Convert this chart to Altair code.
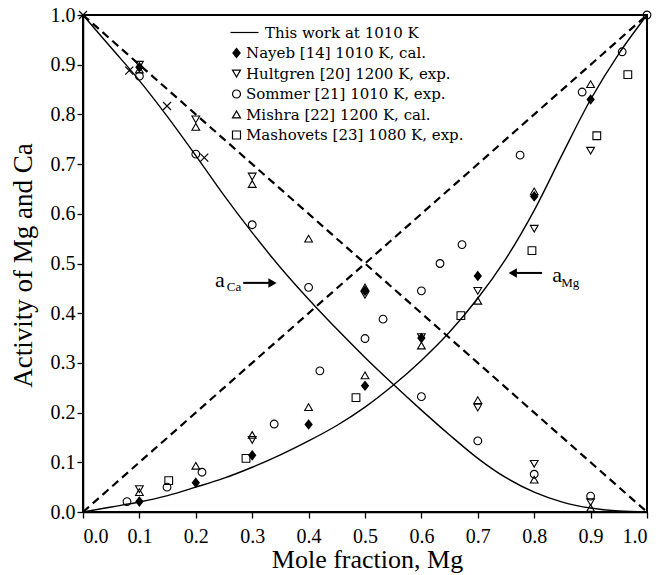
import altair as alt
import pandas as pd

# ---- model curves (this work at 1010 K) ----
curve_x = [0, 0.05, 0.1, 0.15, 0.2, 0.25, 0.3, 0.35, 0.4, 0.45, 0.5,
           0.55, 0.6, 0.65, 0.7, 0.75, 0.8, 0.85, 0.9, 0.95, 1.0]
a_ca_curve = [1.0, 0.934, 0.868, 0.795, 0.717, 0.637, 0.562, 0.492, 0.428, 0.368, 0.311,
              0.257, 0.205, 0.155, 0.108, 0.069, 0.040, 0.020, 0.008, 0.002, 0.0]
a_mg_curve = [0.0, 0.01, 0.02, 0.033, 0.05, 0.068, 0.09, 0.115, 0.143, 0.174, 0.211,
              0.255, 0.305, 0.362, 0.43, 0.51, 0.607, 0.72, 0.83, 0.922, 1.0]

# ---- ideal (Raoult) lines ----
ideal_x = [0.0, 1.0]
ideal_mg = [0.0, 1.0]
ideal_ca = [1.0, 0.0]

# ---- literature data ----
series_names = ["\u200b\u00a0\u00a0\u00a0\u00a0This work at 1010 K", "Nayeb [14] 1010 K, cal.",
                "Hultgren [20] 1200 K, exp.", "Sommer [21] 1010 K, exp.",
                "Mishra [22] 1200 K, cal.", "Mashovets [23] 1080 K, exp."]

nayeb_x = [0.1, 0.5, 0.1, 0.2, 0.3, 0.4, 0.5, 0.6, 0.7, 0.8, 0.9]
nayeb_y = [0.895, 0.445, 0.021, 0.059, 0.114, 0.176, 0.254, 0.35, 0.475, 0.635, 0.83]

hultgren_x = [0.1, 0.2, 0.3, 0.5, 0.7, 0.8, 0.9, 0.1, 0.3, 0.6, 0.7, 0.8, 0.9]
hultgren_y = [0.9, 0.79, 0.675, 0.437, 0.21, 0.097, 0.02, 0.046, 0.145, 0.352, 0.445, 0.57, 0.727]

sommer_x = [0.1, 0.2, 0.3, 0.4, 0.5, 0.6, 0.7, 0.8, 0.9,
            0.078, 0.149, 0.211, 0.339, 0.42, 0.532, 0.6, 0.633, 0.672, 0.775, 0.885, 0.956, 1.0]
sommer_y = [0.877, 0.72, 0.578, 0.452, 0.349, 0.232, 0.143, 0.076, 0.032,
            0.021, 0.05, 0.08, 0.177, 0.284, 0.388, 0.445, 0.5, 0.538, 0.718, 0.845, 0.926, 1.0]

mishra_x = [0.1, 0.2, 0.3, 0.4, 0.5, 0.7, 0.8, 0.9, 0.1, 0.2, 0.3, 0.4, 0.5, 0.6, 0.7, 0.8, 0.9]
mishra_y = [0.89, 0.775, 0.66, 0.55, 0.452, 0.225, 0.065, 0.008,
            0.04, 0.093, 0.155, 0.211, 0.275, 0.335, 0.425, 0.645, 0.861]

mashovets_x = [0.152, 0.289, 0.484, 0.67, 0.796, 0.911, 0.966]
mashovets_y = [0.063, 0.108, 0.23, 0.395, 0.526, 0.757, 0.88]

cross_x = [0.0, 0.082, 0.149, 0.215]
cross_y = [1.0, 0.888, 0.817, 0.713]

# ---- annotations ----
arrow_ca_x = [0.284, 0.336]
arrow_ca_y = 0.461
arrow_mg_x = [0.762, 0.814]
arrow_mg_y = 0.481
label_a_x = [0.234, 0.832]
label_a_y = [0.452, 0.462]
label_sub_x = [0.255, 0.848]
label_sub_y = [0.445, 0.452]
label_sub_text = ["Ca", "Mg"]

# ---- tables ----
curves = pd.concat([
    pd.DataFrame({"x": curve_x, "y": a_ca_curve, "c": "Ca"}),
    pd.DataFrame({"x": curve_x, "y": a_mg_curve, "c": "Mg"}),
])
ideal = pd.concat([
    pd.DataFrame({"x": ideal_x, "y": ideal_mg, "c": "Mg"}),
    pd.DataFrame({"x": ideal_x, "y": ideal_ca, "c": "Ca"}),
])
pts = pd.concat([
    pd.DataFrame({"x": nayeb_x, "y": nayeb_y, "s": series_names[1]}),
    pd.DataFrame({"x": hultgren_x, "y": hultgren_y, "s": series_names[2]}),
    pd.DataFrame({"x": sommer_x, "y": sommer_y, "s": series_names[3]}),
    pd.DataFrame({"x": mishra_x, "y": mishra_y, "s": series_names[4]}),
    pd.DataFrame({"x": mashovets_x, "y": mashovets_y, "s": series_names[5]}),
])
crosses = pd.DataFrame({"x": cross_x, "y": cross_y})

SERIF = "Liberation Serif"

xs = alt.Scale(domain=[0, 1], nice=False, zero=False)
ys = alt.Scale(domain=[0, 1], nice=False, zero=False)
tick_vals = [round(i * 0.1, 1) for i in range(11)]

x_axis = alt.Axis(values=tick_vals, format=".1f", title="Mole fraction, Mg",
                  grid=False, tickSize=6, labelPadding=8, labelFontSize=20,
                  labelFont=SERIF, titleFont=SERIF, titleFontSize=26,
                  titleFontWeight="normal", titleX=284, titleY=55,
                  titleBaseline="alphabetic", domainColor="black", domainWidth=1.5,
                  tickColor="black", tickWidth=1.3, labelColor="black", titleColor="black")
y_axis = alt.Axis(values=tick_vals, format=".1f", title="Activity of Mg and Ca",
                  grid=False, tickSize=6, labelPadding=2, labelFontSize=20,
                  labelFont=SERIF, titleFont=SERIF, titleFontSize=27,
                  titleFontWeight="normal", titleX=-60, titleY=250,
                  titleAngle=-90, titleBaseline="middle", titleAlign="center",
                  domainColor="black", domainWidth=1.5,
                  tickColor="black", tickWidth=1.3, labelColor="black", titleColor="black")

ideal_layer = alt.Chart(ideal).mark_line(color="black", strokeWidth=2.2,
                                        strokeDash=[8, 5]).encode(
    x=alt.X("x:Q", scale=xs, axis=x_axis),
    y=alt.Y("y:Q", scale=ys, axis=y_axis),
    detail="c:N",
)

curve_layer = alt.Chart(curves).mark_line(color="black", strokeWidth=1.4,
                                         interpolate="catmull-rom").encode(
    x=alt.X("x:Q", scale=xs), y=alt.Y("y:Q", scale=ys), detail="c:N"
)

# nested diamonds give a solid-looking diamond even where no fill is applied
solid_diamond = ("M0,-1.15L0.9,0L0,1.15L-0.9,0Z M0,-0.8L0.62,0L0,0.8L-0.62,0Z "
                 "M0,-0.48L0.36,0L0,0.48L-0.36,0Z M0,-0.18L0.12,0L0,0.18L-0.12,0Z")
shape_range = ["M-1.5,0L5.5,0", solid_diamond, "triangle-down", "circle",
               "triangle-up", "square"]
fill_range = ["transparent", "black", "transparent", "transparent",
              "transparent", "transparent"]

legend = alt.Legend(title=None, orient="none", legendX=146, legendY=10,
                    labelFont="DejaVu Serif", labelFontSize=15, labelColor="black",
                    symbolSize=64, symbolStrokeColor="black", symbolStrokeWidth=1.2,
                    symbolFillColor="transparent",
                    rowPadding=4.5, labelOffset=2, padding=0, labelLimit=400)

point_layer = alt.Chart(pts).mark_point(filled=False, opacity=1, size=60,
                                        color="black", strokeWidth=1.1).encode(
    x=alt.X("x:Q", scale=xs),
    y=alt.Y("y:Q", scale=ys),
    shape=alt.Shape("s:N", scale=alt.Scale(domain=series_names, range=shape_range),
                    legend=legend),
    fill=alt.Fill("s:N", scale=alt.Scale(domain=series_names, range=fill_range),
                  legend=None),
)

cross_layer = alt.Chart(crosses).mark_point(shape="M-1,-1L1,1M-1,1L1,-1", size=64,
                                            stroke="black", strokeWidth=1.2,
                                            opacity=1, filled=False).encode(
    x=alt.X("x:Q", scale=xs), y=alt.Y("y:Q", scale=ys)
)

arrow_ca = pd.DataFrame({"x": [arrow_ca_x[0]], "x2": [arrow_ca_x[1]], "y": [arrow_ca_y]})
arrow_mg = pd.DataFrame({"x": [arrow_mg_x[0]], "x2": [arrow_mg_x[1]], "y": [arrow_mg_y]})

rule_ca = alt.Chart(arrow_ca).mark_rule(color="black", strokeWidth=2).encode(
    x=alt.X("x:Q", scale=xs), x2="x2:Q", y=alt.Y("y:Q", scale=ys))
rule_mg = alt.Chart(arrow_mg).mark_rule(color="black", strokeWidth=2).encode(
    x=alt.X("x:Q", scale=xs), x2="x2:Q", y=alt.Y("y:Q", scale=ys))
head_ca = alt.Chart(arrow_ca).mark_point(shape="triangle-right", filled=True, size=90,
                                         color="black", opacity=1).encode(
    x=alt.X("x2:Q", scale=xs), y=alt.Y("y:Q", scale=ys))
head_mg = alt.Chart(arrow_mg).mark_point(shape="triangle-left", filled=True, size=90,
                                         color="black", opacity=1).encode(
    x=alt.X("x:Q", scale=xs), y=alt.Y("y:Q", scale=ys))

lab_a = pd.DataFrame({"x": label_a_x, "y": label_a_y, "t": ["a", "a"]})
lab_s = pd.DataFrame({"x": label_sub_x, "y": label_sub_y, "t": label_sub_text})
text_a = alt.Chart(lab_a).mark_text(font=SERIF, fontSize=22, align="left",
                                    baseline="alphabetic", color="black").encode(
    x=alt.X("x:Q", scale=xs), y=alt.Y("y:Q", scale=ys), text="t:N")
text_s = alt.Chart(lab_s).mark_text(font=SERIF, fontSize=13, align="left",
                                    baseline="alphabetic", color="black").encode(
    x=alt.X("x:Q", scale=xs), y=alt.Y("y:Q", scale=ys), text="t:N")

chart = alt.layer(ideal_layer, curve_layer, point_layer, cross_layer,
                  rule_ca, rule_mg, head_ca, head_mg, text_a, text_s).properties(
    width=564, height=497,
    autosize=alt.AutoSizeParams(type="none"),
    padding={"left": 75, "top": 7, "right": 12, "bottom": 62},
    background="white",
).configure_view(stroke="black", strokeWidth=2)

chart.save("out.html", embed_options={"renderer": "svg", "actions": False})
